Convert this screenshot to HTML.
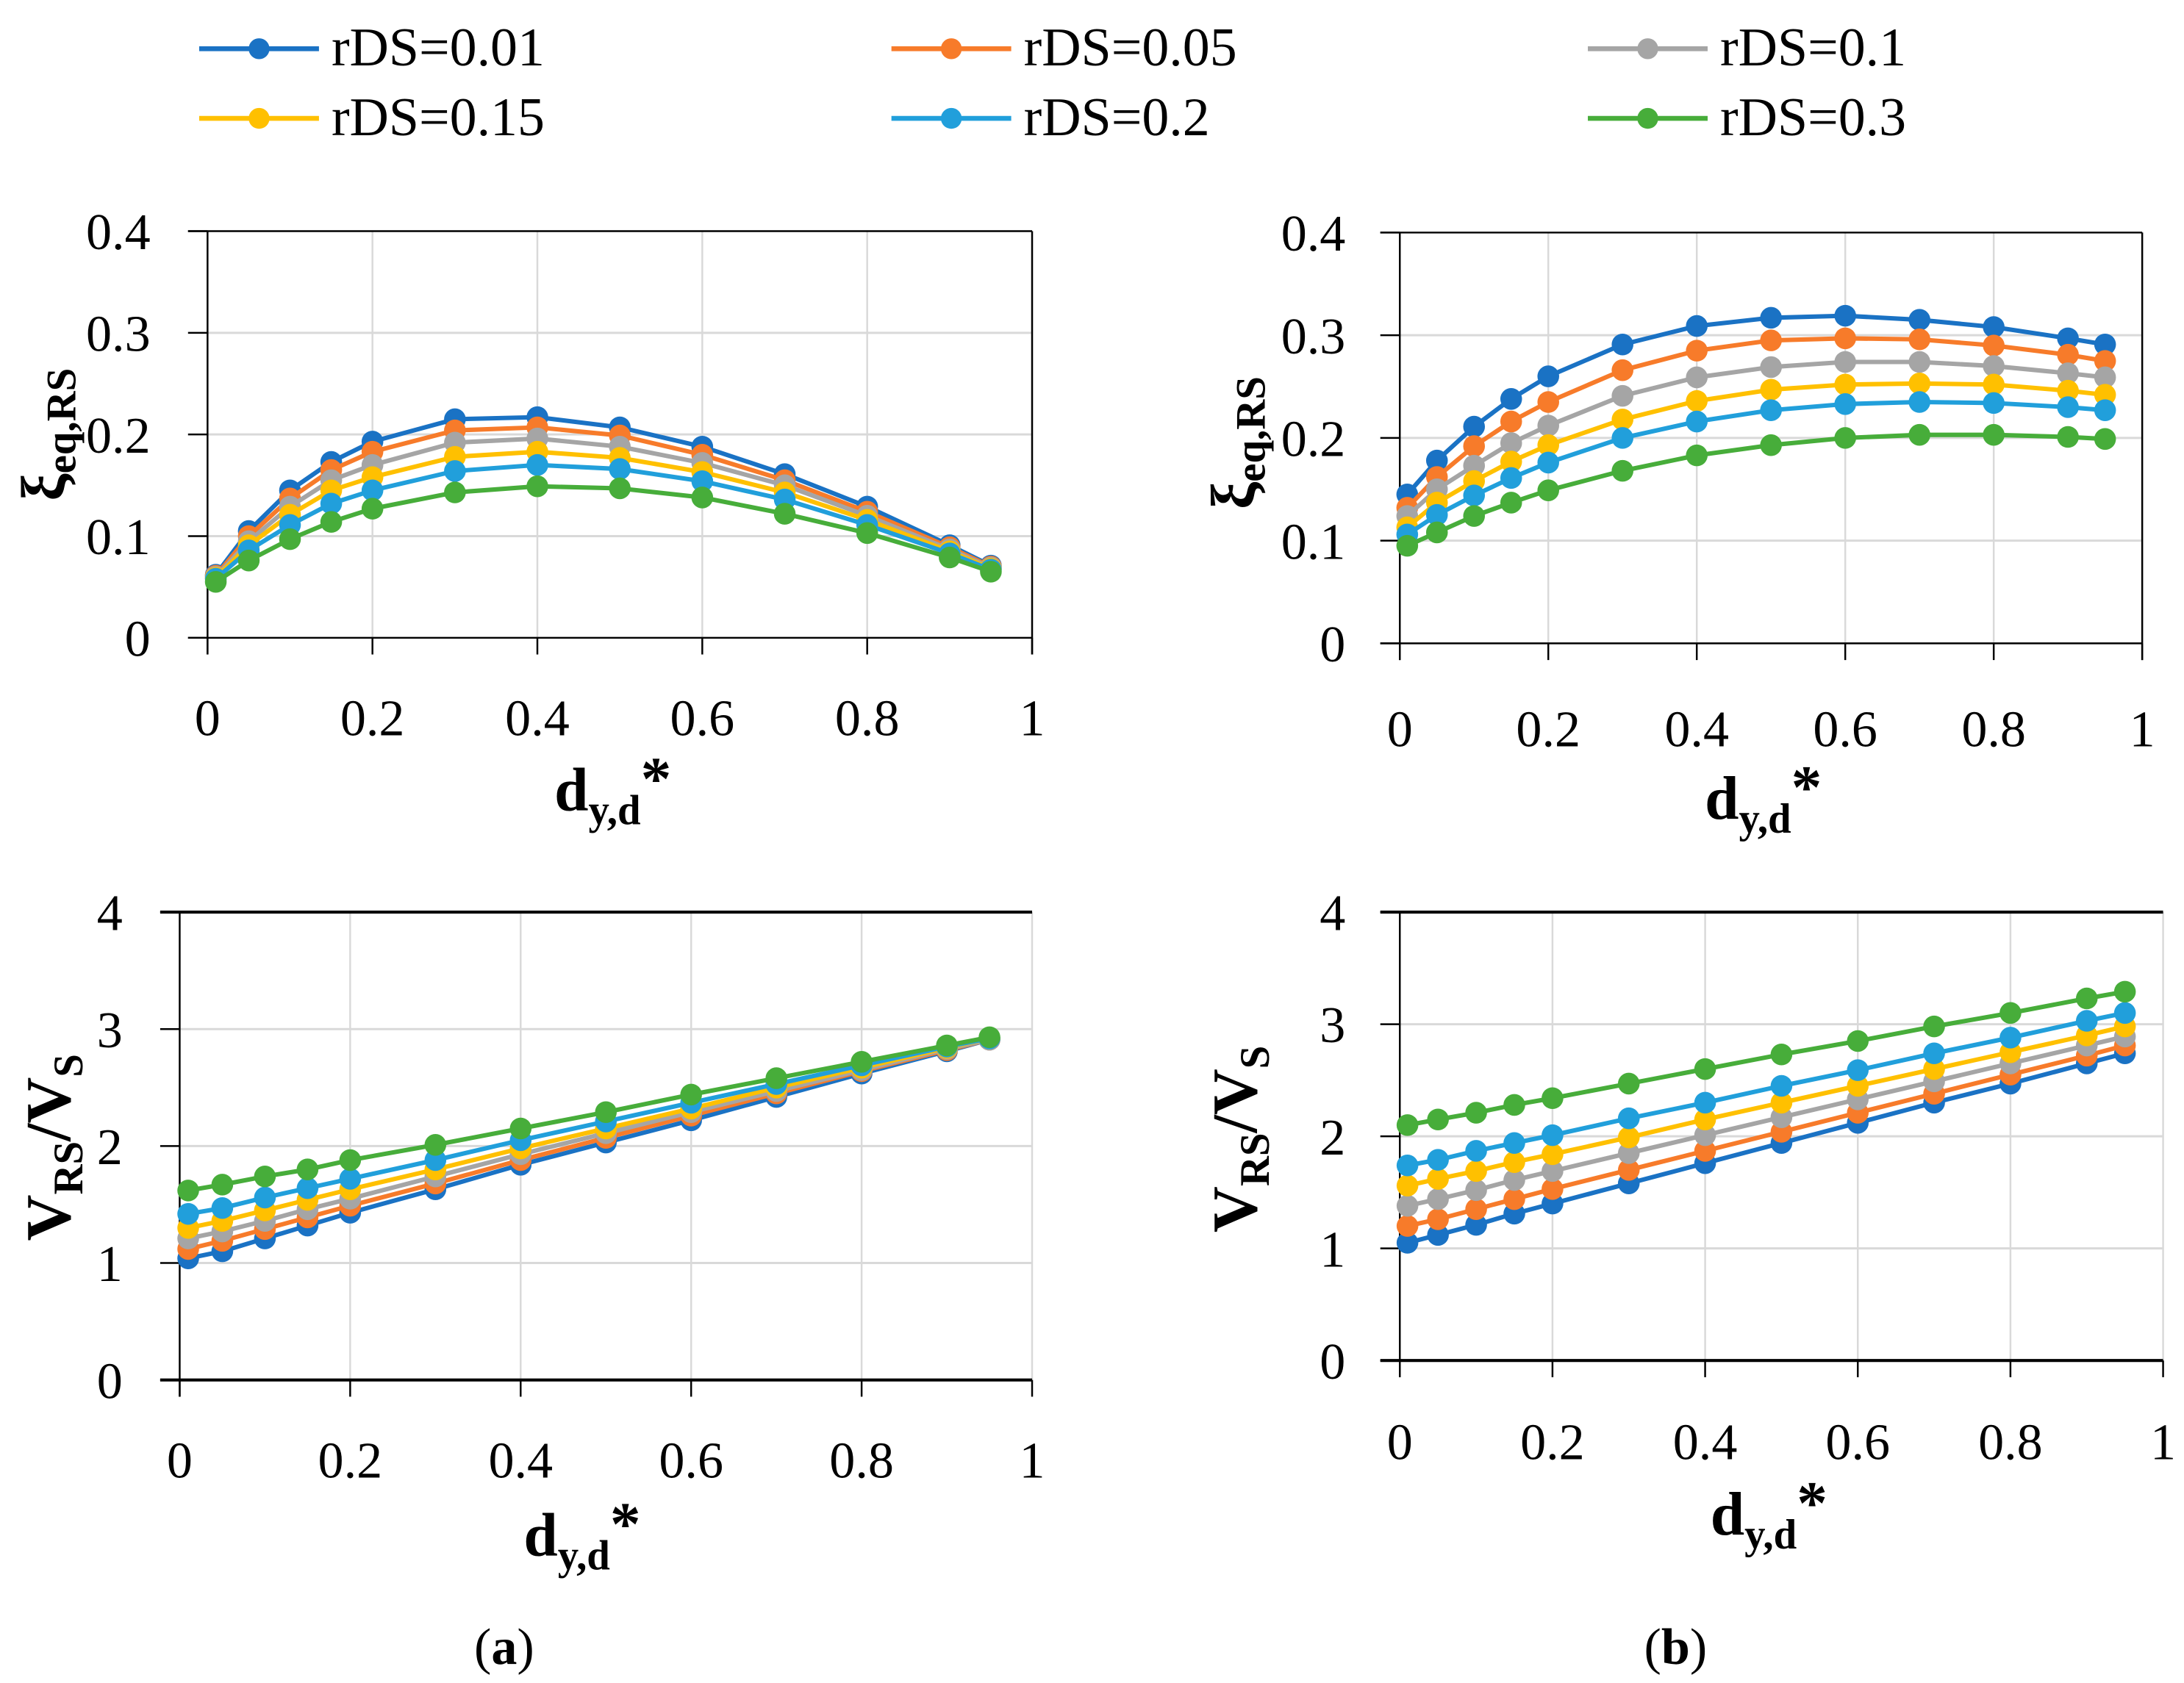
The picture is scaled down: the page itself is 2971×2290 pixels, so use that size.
<!DOCTYPE html>
<html><head><meta charset="utf-8"><style>
html,body{margin:0;padding:0;background:#fff}
svg{display:block}
text{font-family:"Liberation Serif",serif;fill:#000}
</style></head><body>
<svg id="fig" width="2971" height="2290" viewBox="0 0 1568 1208.6" xmlns="http://www.w3.org/2000/svg"></svg>
<script>
const xVals = [0.01,0.05,0.1,0.15,0.2,0.3,0.4,0.5,0.6,0.7,0.8,0.9,0.95];
const seriesNames = ["rDS=0.01","rDS=0.05","rDS=0.1","rDS=0.15","rDS=0.2","rDS=0.3"];
const seriesColors = ["#1a72c4","#f77b2a","#a5a5a5","#ffc000","#219fdb","#47ad3a"];
const xTicks = [0,0.2,0.4,0.6,0.8,1];
const xTickLabels = ["0","0.2","0.4","0.6","0.8","1"];
const xiTicks = [0,0.1,0.2,0.3,0.4];
const xiTickLabels = ["0","0.1","0.2","0.3","0.4"];
const vTicks = [0,1,2,3,4];
const vTickLabels = ["0","1","2","3","4"];
const xiA = [
[0.062,0.105,0.145,0.173,0.193,0.215,0.217,0.207,0.188,0.161,0.129,0.091,0.071],
[0.061,0.100,0.137,0.165,0.183,0.204,0.207,0.199,0.180,0.155,0.124,0.089,0.070],
[0.060,0.095,0.129,0.155,0.170,0.192,0.196,0.188,0.172,0.150,0.120,0.087,0.069],
[0.059,0.091,0.121,0.145,0.158,0.178,0.183,0.177,0.163,0.143,0.116,0.085,0.068],
[0.058,0.086,0.111,0.132,0.145,0.164,0.170,0.166,0.154,0.136,0.111,0.083,0.067],
[0.055,0.076,0.097,0.114,0.127,0.143,0.149,0.147,0.138,0.122,0.103,0.079,0.065]];
const xiB = [
[0.145,0.178,0.211,0.238,0.260,0.291,0.309,0.317,0.319,0.315,0.308,0.297,0.291],
[0.132,0.162,0.192,0.216,0.235,0.266,0.285,0.295,0.297,0.296,0.290,0.281,0.275],
[0.124,0.150,0.173,0.195,0.212,0.241,0.259,0.269,0.274,0.274,0.270,0.263,0.259],
[0.113,0.137,0.158,0.177,0.193,0.218,0.236,0.247,0.252,0.253,0.252,0.246,0.242],
[0.106,0.125,0.144,0.161,0.176,0.200,0.216,0.227,0.233,0.235,0.234,0.230,0.227],
[0.095,0.108,0.124,0.137,0.149,0.168,0.183,0.193,0.200,0.203,0.203,0.201,0.199]];
const vA = [
[1.04,1.10,1.21,1.32,1.43,1.63,1.84,2.03,2.22,2.42,2.62,2.81,2.91],
[1.12,1.19,1.29,1.39,1.49,1.68,1.88,2.07,2.26,2.45,2.64,2.82,2.91],
[1.21,1.27,1.36,1.46,1.55,1.74,1.93,2.11,2.29,2.47,2.65,2.83,2.91],
[1.30,1.36,1.45,1.54,1.63,1.80,1.98,2.15,2.32,2.50,2.67,2.84,2.92],
[1.42,1.47,1.56,1.64,1.72,1.88,2.05,2.21,2.37,2.53,2.69,2.85,2.92],
[1.62,1.67,1.74,1.80,1.88,2.01,2.15,2.29,2.44,2.58,2.72,2.86,2.93]];
const vB = [
[1.05,1.12,1.21,1.31,1.40,1.58,1.76,1.94,2.12,2.30,2.47,2.65,2.74],
[1.20,1.26,1.35,1.44,1.53,1.70,1.87,2.04,2.21,2.38,2.55,2.72,2.81],
[1.38,1.44,1.52,1.61,1.69,1.85,2.01,2.17,2.33,2.49,2.65,2.81,2.89],
[1.56,1.62,1.69,1.77,1.84,1.99,2.15,2.30,2.45,2.60,2.75,2.90,2.98],
[1.74,1.79,1.87,1.94,2.01,2.16,2.30,2.45,2.59,2.74,2.88,3.03,3.10],
[2.10,2.15,2.21,2.28,2.34,2.47,2.60,2.73,2.85,2.98,3.10,3.23,3.29]];

const NS="http://www.w3.org/2000/svg";
const svg=document.getElementById('fig');
function mk(tag,attrs,parent){const e=document.createElementNS(NS,tag);for(const k in attrs)e.setAttribute(k,attrs[k]);(parent||svg).appendChild(e);return e;}

const legCols=[143,640,1140], legRows=[35,85];
seriesNames.forEach((n,i)=>{
  const cx=legCols[i%3], cy=legRows[Math.floor(i/3)];
  const g=mk('g',{});
  
  
  mk('line',{x1:cx,y1:cy,x2:cx+86,y2:cy,stroke:seriesColors[i],'stroke-width':3.5},g);
  mk('circle',{cx:cx+43,cy:cy,r:7.5,fill:seriesColors[i]},g);
  const t=mk('text',{x:cx+95,y:cy+12,'font-size':39},g);
  t.textContent=n;
});

function chart(cfg){
  const g=mk('g',{});
  
  
  const sx=v=>cfg.x0+(cfg.x1-cfg.x0)*v;
  const sy=v=>cfg.yB-(cfg.yB-cfg.yT)*v/cfg.ymax;
  xTicks.forEach((v,i)=>{
    if(v>0){const l=mk('line',{x1:sx(v),y1:cfg.yT,x2:sx(v),y2:cfg.yB,stroke:'#d9d9d9','stroke-width':1.3},g);
    }
    mk('line',{x1:sx(v),y1:cfg.yB,x2:sx(v),y2:cfg.yB+12,stroke:'#000','stroke-width':1.3},g);
    const t=mk('text',{x:sx(v),y:cfg.xl,'font-size':37,'text-anchor':'middle'},g);
    
    t.textContent=xTickLabels[i];
  });
  cfg.ticks.forEach((v,i)=>{
    if(v>0&&v<cfg.ymax){const l=mk('line',{x1:cfg.x0,y1:sy(v),x2:cfg.x1,y2:sy(v),stroke:'#d9d9d9','stroke-width':1.6},g);
    }
    mk('line',{x1:cfg.x0-14,y1:sy(v),x2:cfg.x0,y2:sy(v),stroke:'#000','stroke-width':1.3},g);
    const t=mk('text',{x:cfg.yl,y:sy(v)+13,'font-size':37,'text-anchor':'end'},g);
    
    t.textContent=cfg.labels[i];
  });
  mk('line',{x1:cfg.x0,y1:cfg.yT,x2:cfg.x0,y2:cfg.yB+12,stroke:'#000','stroke-width':1.3},g);
  mk('line',{x1:cfg.x0-14,y1:cfg.yB,x2:cfg.x1,y2:cfg.yB,stroke:'#000','stroke-width':cfg.frame?1.3:2.2},g);
  mk('line',{x1:cfg.x0-14,y1:cfg.yT,x2:cfg.x1,y2:cfg.yT,stroke:'#000','stroke-width':cfg.frame?1.3:2.2},g);
  if(cfg.frame) mk('line',{x1:cfg.x1,y1:cfg.yT,x2:cfg.x1,y2:cfg.yB+12,stroke:'#000','stroke-width':1.3},g);
  cfg.data.forEach((arr,si)=>{
    const pts=arr.map((v,j)=>sx(xVals[j])+','+sy(v)).join(' ');
    const pl=mk('polyline',{points:pts,fill:'none',stroke:seriesColors[si],'stroke-width':3.2},g);
    
    
    arr.forEach((v,j)=>{
      const c=mk('circle',{cx:sx(xVals[j]),cy:sy(v),r:7.8,fill:seriesColors[si]},g);
      
      
    });
  });
  const xt=mk('text',{x:cfg.xtx,y:cfg.xty,'font-size':44,'font-weight':'bold','text-anchor':'middle'},g);
  
  xt.innerHTML='d<tspan font-size="30" dy="10">y,d</tspan><tspan dy="-18">*</tspan>';
  const yt=mk('text',{transform:`translate(${cfg.ytx},${cfg.yty}) rotate(-90)`,'font-size':cfg.ytfs,'font-weight':'bold','text-anchor':'middle'},g);
  
  yt.innerHTML=cfg.ytitle;
}
const xiTitle='ξ<tspan font-size="30" dy="8">eq,RS</tspan>';
const vTitle='V<tspan font-size="30" dy="9">RS</tspan><tspan dy="-9">/V</tspan><tspan font-size="30" dy="9">S</tspan>';
chart({name:'chart-a-damping',x0:149,x1:741,yT:166,yB:458,ymax:0.4,ticks:xiTicks,labels:xiTickLabels,data:xiA,frame:true,yl:108,xl:528,xtx:440,xty:582,ytx:46,yty:312,ytitle:xiTitle,ytfs:44});
chart({name:'chart-b-damping',x0:1005,x1:1538,yT:167,yB:462,ymax:0.4,ticks:xiTicks,labels:xiTickLabels,data:xiB,frame:true,yl:966,xl:536,xtx:1266,xty:588,ytx:900,yty:318,ytitle:xiTitle,ytfs:44});
chart({name:'chart-a-shear-ratio',x0:129,x1:741,yT:655,yB:991,ymax:4,ticks:vTicks,labels:vTickLabels,data:vA,frame:false,yl:88,xl:1061,xtx:418,xty:1117,ytx:50,yty:824,ytitle:vTitle,ytfs:46});
chart({name:'chart-b-shear-ratio',x0:1005,x1:1553,yT:655,yB:977,ymax:4,ticks:vTicks,labels:vTickLabels,data:vB,frame:false,yl:966,xl:1048,xtx:1270,xty:1102,ytx:902,yty:818,ytitle:vTitle,ytfs:46});
const ca=mk('text',{x:362,y:1195,'font-size':37,'text-anchor':'middle'});

ca.innerHTML='(<tspan font-weight="bold">a</tspan>)';
const cb=mk('text',{x:1203,y:1195,'font-size':37,'text-anchor':'middle'});

cb.innerHTML='(<tspan font-weight="bold">b</tspan>)';
</script>
</body></html>
